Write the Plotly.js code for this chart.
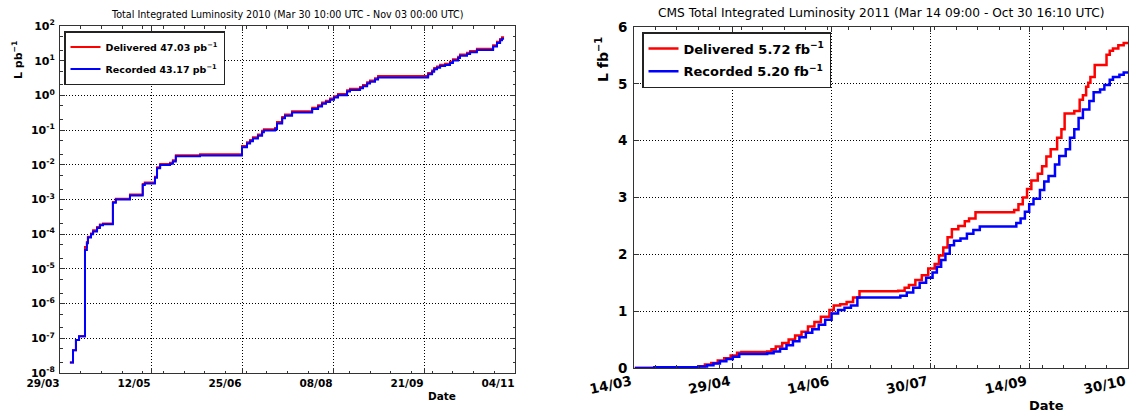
<!DOCTYPE html>
<html><head><meta charset="utf-8">
<script src="https://cdn.plot.ly/plotly-3.0.1.min.js"></script>
<style>html,body{margin:0;padding:0;background:#fff;} #chart{width:1129px;height:412px;}</style>
</head><body><div id="chart"></div>
<script>
// ---------- 2010 (left, log scale, pb^-1) ----------
const lumi2010_dates = ["2010-04-02 19:00","2010-04-04 07:00","2010-04-05 17:00","2010-04-07 05:00","2010-04-10 02:00","2010-04-11 00:00","2010-04-11 12:00","2010-04-13 00:00","2010-04-14 00:00","2010-04-15 22:00","2010-04-17 07:00","2010-04-18 19:00","2010-04-23 14:00","2010-04-25 00:00","2010-05-01 20:00","2010-05-08 00:00","2010-05-09 00:00","2010-05-13 22:00","2010-05-14 22:00","2010-05-16 10:00","2010-05-21 05:00","2010-05-22 14:00","2010-05-24 00:00","2010-06-04 17:00","2010-06-25 00:00","2010-06-27 10:00","2010-06-28 22:00","2010-06-30 07:00","2010-07-02 17:00","2010-07-04 17:00","2010-07-05 14:00","2010-07-11 00:00","2010-07-11 22:00","2010-07-14 10:00","2010-07-15 19:00","2010-07-19 05:00","2010-07-28 22:00","2010-07-31 19:00","2010-08-02 17:00","2010-08-04 14:00","2010-08-06 14:00","2010-08-08 12:00","2010-08-10 10:00","2010-08-14 19:00","2010-08-16 05:00","2010-08-21 02:00","2010-08-22 12:00","2010-08-24 12:00","2010-08-25 22:00","2010-08-28 07:00","2010-08-29 19:00","2010-09-23 00:00","2010-09-24 22:00","2010-09-25 22:00","2010-09-27 07:00","2010-09-28 19:00","2010-10-01 05:00","2010-10-03 14:00","2010-10-05 00:00","2010-10-07 12:00","2010-10-08 10:00","2010-10-11 19:00","2010-10-13 07:00","2010-10-16 14:00","2010-10-24 10:00","2010-10-26 07:00","2010-10-27 19:00","2010-10-28 17:00","2010-10-29 17:00"];
const delivered2010 = [2e-8,4.5e-8,9e-8,1.15e-7,4.3e-5,6e-5,8.5e-5,1.05e-4,1.3e-4,1.6e-4,1.9e-4,2.05e-4,8.5e-4,1.05e-3,1.4e-3,2.8e-3,3.1e-3,4.5e-3,8.5e-3,1.05e-2,1.15e-2,1.35e-2,1.9e-2,2.0e-2,3.5e-2,4.5e-2,5.2e-2,6.2e-2,7.5e-2,9.5e-2,0.105,0.115,0.17,0.24,0.28,0.35,0.44,0.52,0.62,0.70,0.82,0.95,1.1,1.4,1.55,1.75,2.0,2.4,2.7,3.1,3.6,4.4,5.2,6.2,6.8,7.6,8.2,9.4,11,13,15,17,19,22,28,35,42,47.03,47.03];
const recorded2010 = [2e-8,4.5e-8,9e-8,1.15e-7,3.5e-5,5.5e-5,8e-5,1.0e-4,1.2e-4,1.5e-4,1.8e-4,1.95e-4,8e-4,1.0e-3,1.3e-3,2.6e-3,2.9e-3,4.2e-3,8e-3,9.8e-3,1.07e-2,1.25e-2,1.75e-2,1.85e-2,3.2e-2,4.1e-2,4.8e-2,5.7e-2,6.9e-2,8.7e-2,9.7e-2,0.106,0.156,0.22,0.26,0.32,0.405,0.48,0.57,0.645,0.755,0.875,1.01,1.29,1.43,1.61,1.84,2.2,2.48,2.85,3.3,4.05,4.8,5.7,6.25,7.0,7.55,8.65,10.1,12.0,13.8,15.6,17.5,20.2,25.8,32.2,38.6,43.17,43.17];
const ticks2010_x = ["2010-03-29","2010-05-12","2010-06-25","2010-08-08","2010-09-21","2010-11-04"];
const ticks2010_xtext = ["29/03","12/05","25/06","08/08","21/09","04/11"];
const ticks2010_y = [1e-8,1e-7,1e-6,1e-5,1e-4,1e-3,1e-2,1e-1,1e0,1e1,1e2];
const ticks2010_ytext = ["10<sup>-8</sup>","10<sup>-7</sup>","10<sup>-6</sup>","10<sup>-5</sup>","10<sup>-4</sup>","10<sup>-3</sup>","10<sup>-2</sup>","10<sup>-1</sup>","10<sup>0</sup>","10<sup>1</sup>","10<sup>2</sup>"];

// ---------- 2011 (right, linear, fb^-1) ----------
const delivered2011_dates = ["2011-03-14 09:00","2011-03-23 12:00","2011-04-13","2011-04-16","2011-04-19","2011-04-22","2011-04-25","2011-04-28","2011-05-01","2011-05-03","2011-05-15","2011-05-17","2011-05-19","2011-05-22","2011-05-25","2011-05-28","2011-05-31","2011-06-03","2011-06-06","2011-06-09","2011-06-13","2011-06-15","2011-06-18","2011-06-21","2011-06-24","2011-06-27","2011-07-15","2011-07-18","2011-07-20","2011-07-23","2011-07-26","2011-07-29","2011-08-01","2011-08-03","2011-08-05","2011-08-07","2011-08-09","2011-08-12","2011-08-15","2011-08-17","2011-08-20","2011-09-07","2011-09-09","2011-09-11","2011-09-13","2011-09-15","2011-09-18","2011-09-20","2011-09-22","2011-09-24","2011-09-27","2011-09-29","2011-09-30 12:00","2011-10-05","2011-10-07 12:00","2011-10-09","2011-10-10 12:00","2011-10-11 12:00","2011-10-12 12:00","2011-10-14 12:00","2011-10-20","2011-10-21 12:00","2011-10-23","2011-10-25 12:00","2011-10-28","2011-10-30 16:10"];
const delivered2011 = [0,0.015,0.03,0.06,0.09,0.13,0.17,0.22,0.27,0.28,0.29,0.33,0.38,0.44,0.5,0.57,0.64,0.73,0.81,0.9,1.02,1.1,1.12,1.16,1.24,1.35,1.36,1.41,1.46,1.55,1.63,1.75,1.83,1.98,2.12,2.3,2.44,2.5,2.58,2.63,2.74,2.78,2.88,3.0,3.15,3.3,3.42,3.55,3.72,3.85,4.05,4.2,4.48,4.52,4.72,4.8,4.95,5.02,5.12,5.33,5.51,5.58,5.62,5.68,5.72,5.72];
const recorded2011_dates = ["2011-03-14 09:00","2011-03-23 12:00","2011-04-13","2011-04-17","2011-04-20","2011-04-23","2011-04-26","2011-04-29","2011-05-02","2011-05-15","2011-05-18","2011-05-21","2011-05-24","2011-05-27","2011-05-30","2011-06-02","2011-06-05","2011-06-08","2011-06-11","2011-06-14","2011-06-17","2011-06-20","2011-06-23","2011-06-26","2011-07-16","2011-07-19","2011-07-22","2011-07-25","2011-07-28","2011-07-31","2011-08-02","2011-08-04","2011-08-06","2011-08-08","2011-08-10","2011-08-13","2011-08-16","2011-08-19","2011-08-22","2011-09-08","2011-09-10","2011-09-12","2011-09-14","2011-09-16","2011-09-19","2011-09-21","2011-09-23","2011-09-26","2011-09-28","2011-10-01","2011-10-03","2011-10-05","2011-10-07","2011-10-09","2011-10-12","2011-10-14","2011-10-17","2011-10-19","2011-10-21 12:00","2011-10-23","2011-10-26","2011-10-28","2011-10-30 16:10"];
const recorded2011 = [0,0.012,0.025,0.05,0.08,0.12,0.16,0.2,0.245,0.26,0.29,0.34,0.4,0.47,0.54,0.62,0.68,0.76,0.85,0.96,1.02,1.06,1.1,1.24,1.27,1.33,1.41,1.5,1.59,1.68,1.78,1.9,2.01,2.16,2.24,2.28,2.36,2.43,2.49,2.55,2.63,2.75,2.88,2.98,3.13,3.28,3.38,3.58,3.73,3.85,4.05,4.2,4.4,4.55,4.7,4.85,4.9,4.98,5.07,5.12,5.16,5.2,5.2];
const ticks2011_x = ["2011-03-14","2011-04-29","2011-06-14","2011-07-30","2011-09-14","2011-10-30"];
const ticks2011_xtext = ["14/03","29/04","14/06","30/07","14/09","30/10"];
const ticks2011_y = [0,1,2,3,4,5,6];

const W = 1129, H = 412;
const px = x => x / W, py = y => 1 - y / H;
const FF = "DejaVu Sans";
const DAY = 86400000;
const axisCommon = {
  showline: true, linecolor: '#333', linewidth: 1, mirror: 'ticks',
  ticks: 'inside', ticklen: 5, tickcolor: '#333', tickwidth: 1,
  showgrid: true, gridcolor: '#000', gridwidth: 1, griddash: '1px,2px',
  zeroline: false, fixedrange: true
};

const traces = [
  {x: lumi2010_dates, y: delivered2010, type: 'scatter', mode: 'lines', line: {shape: 'hv', color: '#ff0000', width: 2},
   name: 'Delivered 47.03 pb<sup>−1</sup>', xaxis: 'x', yaxis: 'y', legend: 'legend', legendgroup: 'a'},
  {x: lumi2010_dates, y: recorded2010, type: 'scatter', mode: 'lines', line: {shape: 'hv', color: '#0000ff', width: 2},
   name: 'Recorded 43.17 pb<sup>−1</sup>', xaxis: 'x', yaxis: 'y', legend: 'legend', legendgroup: 'b'},
  {x: delivered2011_dates, y: delivered2011, type: 'scatter', mode: 'lines', line: {shape: 'hv', color: '#ff0000', width: 2.5},
   name: 'Delivered 5.72 fb<sup>−1</sup>', xaxis: 'x2', yaxis: 'y2', legend: 'legend2', legendgroup: 'c'},
  {x: recorded2011_dates, y: recorded2011, type: 'scatter', mode: 'lines', line: {shape: 'hv', color: '#0000ff', width: 2.5},
   name: 'Recorded 5.20 fb<sup>−1</sup>', xaxis: 'x2', yaxis: 'y2', legend: 'legend2', legendgroup: 'd'}
];

const layout = {
  width: W, height: H, margin: {l: 0, r: 0, t: 0, b: 0},
  paper_bgcolor: '#fff', plot_bgcolor: '#fff',
  font: {family: FF, color: '#000'},
  showlegend: true,
  xaxis: Object.assign({}, axisCommon, {
    domain: [px(60), px(515)], anchor: 'y', type: 'date',
    range: [ticks2010_x[0], ticks2010_x[5]],
    tickmode: 'array', tickvals: ticks2010_x, ticktext: ticks2010_xtext, tickangle: 0,
    ticklabelshift: -17, ticklabelstandoff: 0, ticklabeloverflow: 'allow',
    tickfont: {family: FF, size: 10.5, weight: 'bold', color: '#000'},
    minor: {ticks: 'inside', ticklen: 2.5, tickcolor: '#333', dtick: 10 * DAY, tick0: '2010-03-29', showgrid: false}
  }),
  yaxis: Object.assign({}, axisCommon, {
    domain: [py(373), py(26)], anchor: 'x', type: 'log', range: [-8, 2],
    tickmode: 'array', tickvals: ticks2010_y, ticktext: ticks2010_ytext,
    tickfont: {family: FF, size: 11, weight: 'bold', color: '#000'},
    ticklabelstandoff: 2,
    minor: {ticks: 'inside', ticklen: 2.5, tickcolor: '#333', dtick: 'D2', showgrid: false}
  }),
  xaxis2: Object.assign({}, axisCommon, {
    domain: [px(634), px(1128)], anchor: 'y2', type: 'date',
    range: [ticks2011_x[0], ticks2011_x[5]],
    tickmode: 'array', tickvals: ticks2011_x, ticktext: ticks2011_xtext, tickangle: -12,
    ticklabelshift: -3, ticklabeloverflow: 'allow',
    tickfont: {family: FF, size: 13.5, weight: 'bold', color: '#000'},
    minor: {ticks: 'inside', ticklen: 3, tickcolor: '#333', dtick: 10 * DAY, tick0: '2011-03-14', showgrid: false}
  }),
  yaxis2: Object.assign({}, axisCommon, {
    domain: [py(368), py(27)], anchor: 'x2', range: [0, 6],
    tickmode: 'array', tickvals: ticks2011_y,
    tickfont: {family: FF, size: 13.5, weight: 'bold', color: '#000'},
    ticklabelstandoff: 3
  }),
  legend: {x: px(64), y: py(31), xanchor: 'left', yanchor: 'top', bgcolor: '#fff',
    bordercolor: '#222', borderwidth: 1.5, tracegroupgap: 3, itemwidth: 30,
    font: {family: FF, size: 9.5, weight: 'bold', color: '#000'}},
  legend2: {x: px(642), y: py(32), xanchor: 'left', yanchor: 'top', bgcolor: '#fff',
    bordercolor: '#222', borderwidth: 1.5, tracegroupgap: 3, itemwidth: 30,
    font: {family: FF, size: 13, weight: 'bold', color: '#000'}},
  annotations: [
    {text: 'Total Integrated Luminosity 2010 (Mar 30 10:00 UTC - Nov 03 00:00 UTC)', xref: 'paper', yref: 'paper',
     x: px(287), y: py(15), xanchor: 'center', yanchor: 'middle', showarrow: false,
     font: {family: FF, size: 9.6, color: '#000'}},
    {text: 'CMS Total Integrated Luminosity 2011 (Mar 14 09:00 - Oct 30 16:10 UTC)', xref: 'paper', yref: 'paper',
     x: px(881), y: py(13), xanchor: 'center', yanchor: 'middle', showarrow: false,
     font: {family: FF, size: 12.2, color: '#000'}},
    {text: 'L pb<sup>−1</sup>', xref: 'paper', yref: 'paper', x: px(18), y: py(60), textangle: -90,
     xanchor: 'center', yanchor: 'middle', showarrow: false, font: {family: FF, size: 11, weight: 'bold', color: '#000'}},
    {text: 'L fb<sup>−1</sup>', xref: 'paper', yref: 'paper', x: px(602), y: py(60), textangle: -90,
     xanchor: 'center', yanchor: 'middle', showarrow: false, font: {family: FF, size: 14, weight: 'bold', color: '#000'}},
    {text: 'Date', xref: 'paper', yref: 'paper', x: px(442), y: py(396), xanchor: 'center', yanchor: 'middle',
     showarrow: false, font: {family: FF, size: 10.5, weight: 'bold', color: '#000'}},
    {text: 'Date', xref: 'paper', yref: 'paper', x: px(1046), y: py(405), xanchor: 'center', yanchor: 'middle',
     showarrow: false, font: {family: FF, size: 13, weight: 'bold', color: '#000'}}
  ]
};

Plotly.newPlot('chart', traces, layout, {displayModeBar: false, staticPlot: true});
</script>
</body></html>
